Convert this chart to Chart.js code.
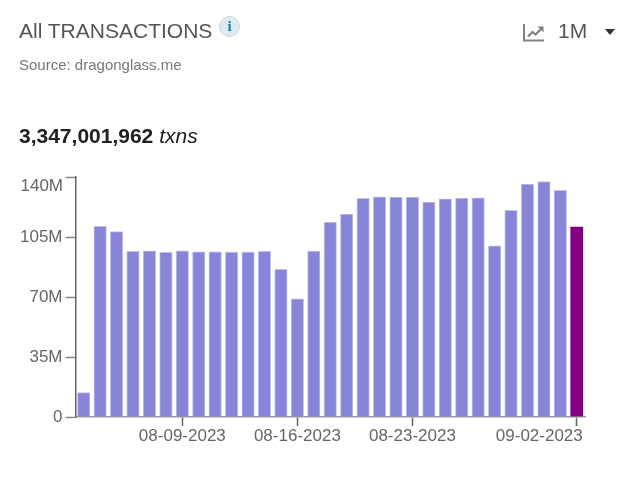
<!DOCTYPE html>
<html>
<head>
<meta charset="utf-8">
<title>All TRANSACTIONS</title>
<script src="https://cdn.jsdelivr.net/npm/chart.js@4/dist/chart.umd.min.js"></script>
<style>
  body { margin: 0; background: #fff; font-family: "Liberation Sans", Arial, sans-serif; }
  #wrap { position: relative; width: 635px; height: 484px; overflow: hidden; }
  #wrap canvas { position: absolute; left: 0; top: 0; }
  .title { position: absolute; left: 19px; top: 19px; font-size: 21px; line-height: 24px; color: #555; }
  .info { position: absolute; left: 219px; top: 16px; width: 19px; height: 19px; border-radius: 50%;
    background: #dfe9f1; border: 1px solid #ccd6de; color: #138496; font: bold 15px/19px "Liberation Serif", serif; text-align: center; }
  .source { position: absolute; left: 19px; top: 56px; font-size: 15px; line-height: 17px; color: #777; }
  .total { position: absolute; left: 19px; top: 124px; font-size: 21px; line-height: 24px; color: #212121; }
  .total b { font-weight: bold; }
  .range { position: absolute; left: 558px; top: 19px; font-size: 21px; line-height: 24px; color: #555; }
  .caret { position: absolute; left: 605px; top: 29px; width: 0; height: 0;
    border-left: 5.5px solid transparent; border-right: 5.5px solid transparent; border-top: 6px solid #333; }
  .icon { position: absolute; left: 523px; top: 24px; }
</style>
</head>
<body>
<div id="wrap">
  <canvas id="txChart" width="635" height="484"></canvas>
  <div class="title">All TRANSACTIONS</div>
  <div class="info">i</div>
  <div class="source">Source: dragonglass.me</div>
  <div class="total"><b>3,347,001,962</b> <i>txns</i></div>
  <svg class="icon" width="22" height="18" viewBox="0 0 22 18">
    <path d="M1 0v16.500h20" fill="none" stroke="#808080" stroke-width="2"/>
    <path d="M5 12.500l4.500-4.500 3 2.500 5-5" fill="none" stroke="#808080" stroke-width="2.200"/>
    <path d="M14.500 2.500h6v6z" fill="#808080"/>
  </svg>
  <div class="range">1M</div>
  <div class="caret"></div>
</div>
<script>
const dates = ['08-03-2023', '08-04-2023', '08-05-2023', '08-06-2023', '08-07-2023', '08-08-2023', '08-09-2023',
  '08-10-2023', '08-11-2023', '08-12-2023', '08-13-2023', '08-14-2023', '08-15-2023', '08-16-2023',
  '08-17-2023', '08-18-2023', '08-19-2023', '08-20-2023', '08-21-2023', '08-22-2023', '08-23-2023',
  '08-24-2023', '08-25-2023', '08-26-2023', '08-27-2023', '08-28-2023', '08-29-2023', '08-30-2023',
  '08-31-2023', '09-01-2023', '09-02-2023'];
// millions of transactions per day
const txns = [14.2, 111.2, 108.1, 96.6, 97, 96, 97, 96.4, 96.4, 96.2, 96.2, 96.6, 86.1, 69, 96.8, 113.7, 118.4,
  127.5, 128.5, 128.3, 128.3, 125.4, 127.3, 127.7, 127.9, 99.9, 120.5, 135.9, 137.4, 132.2, 111];
const xTickLabels = ['08-09-2023', '08-16-2023', '08-23-2023', '09-02-2023'];
const yTicks = [0, 35, 70, 105, 140];

const barColor = '#8884d8';
const barEdge = '#c3c1ec';
const lastColor = '#800080';
const textColor = '#666';
const labelFont = { family: '"Liberation Sans", Arial, sans-serif', size: 17 };

// The end labels sit inside the axis ends in the original, so they get drawn apart
const shiftedLabels = {
  id: 'shiftedLabels',
  afterDraw(chart) {
    const ctx = chart.ctx;
    const { x, y } = chart.scales;
    ctx.save();
    ctx.fillStyle = textColor;
    ctx.font = labelFont.size + 'px ' + labelFont.family;
    ctx.textBaseline = 'middle';
    ctx.textAlign = 'right';
    ctx.fillText('140M', 63, y.getPixelForValue(140) + 9);
    ctx.fillText('09-02-2023', x.getPixelForValue(dates.length - 1) + 6, 436);
    ctx.restore();
  }
};

new Chart(document.getElementById('txChart'), {
  type: 'bar',
  data: {
    labels: dates,
    datasets: [{
      data: txns,
      backgroundColor: txns.map((v, i) => i === txns.length - 1 ? lastColor : barColor),
      borderColor: txns.map((v, i) => i === txns.length - 1 ? lastColor : barEdge),
      borderWidth: 1,
      borderSkipped: 'bottom',
      barThickness: 12.5
    }]
  },
  options: {
    responsive: false,
    animation: false,
    devicePixelRatio: 1,
    layout: { padding: { top: 177, right: 50, bottom: 0, left: 0 } },
    plugins: { legend: { display: false }, tooltip: { enabled: false } },
    scales: {
      x: {
        afterFit(scale) { scale.height = 67; },
        border: { color: '#999', width: 1.5 },
        grid: { drawOnChartArea: false, offset: false, tickLength: 9, tickColor: '#666', tickWidth: 1.5 },
        ticks: {
          autoSkip: false,
          maxRotation: 0,
          padding: 0,
          color: textColor,
          font: labelFont,
          callback(value) {
            const label = dates[value];
            if (!xTickLabels.includes(label)) return null;
            return label === '09-02-2023' ? '' : label;
          }
        }
      },
      y: {
        min: 0,
        max: 140,
        afterFit(scale) { scale.width = 75.5; },
        afterBuildTicks(scale) { scale.ticks = yTicks.map(v => ({ value: v })); },
        border: { color: '#666', width: 1.5 },
        grid: { drawOnChartArea: false, tickLength: 10, tickColor: '#888', tickWidth: 1.5 },
        ticks: {
          padding: 3,
          color: textColor,
          font: labelFont,
          callback(value) {
            if (value === 140) return '';
            return value === 0 ? '0' : value + 'M';
          }
        }
      }
    }
  },
  plugins: [shiftedLabels]
});
</script>
</body>
</html>
